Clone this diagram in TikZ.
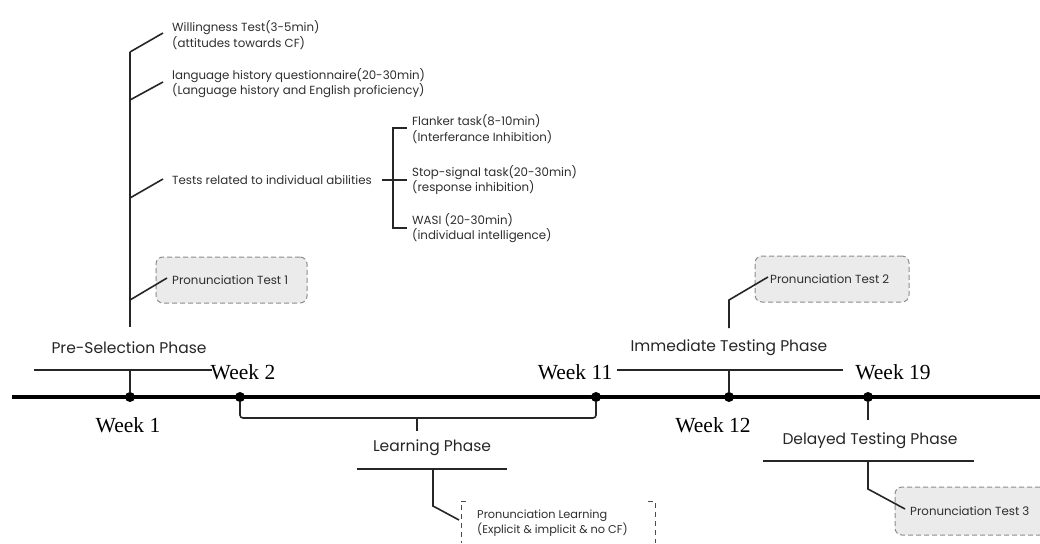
\documentclass[tikz,border=0pt]{standalone}
\usepackage{fontspec}
\setmainfont{Poppins}
\newfontfamily\timesf{Liberation Serif}
\begin{document}
\begin{tikzpicture}[x=1pt,y=-1pt,
 txt/.style={font=\fontsize{11.8}{15.5}\selectfont, text=black!82, anchor=west, align=left, inner sep=0pt},
 phase/.style={font=\fontsize{15.5}{18}\selectfont, text=black!85, inner sep=0pt},
 week/.style={font=\timesf\fontsize{21.5}{24}\selectfont, inner sep=0pt},
 ln/.style={line width=1.6pt, draw=black!85},
 dot/.style={circle, fill=black, inner sep=0pt, minimum size=10pt},
 tbox/.style={draw=black!45, dash pattern=on 5pt off 3pt, fill=black!8, rounded corners=7pt, line width=1pt},
 lbox/.style={draw=black!70, dash pattern=on 5pt off 4pt, line width=1pt},
]
\useasboundingbox (0,0) rectangle (1040,543);

% main timeline
\coordinate (tl0) at (12,397);
\coordinate (tl1) at (1040,397);
\draw[line width=4pt] (tl0) -- (tl1);
\node[dot] (w1) at (130,397) {};
\node[dot] (w2) at (240,397) {};
\node[dot] (w11) at (596,397) {};
\node[dot] (w12) at (729,397) {};
\node[dot] (w19) at (868,397) {};

% week labels
\node[week] (lw1) at (128,425) {Week 1};
\node[week] (lw2) at (243,372) {Week 2};
\node[week] (lw11) at (575,372) {Week 11};
\node[week] (lw12) at (713,425) {Week 12};
\node[week] (lw19) at (893,372) {Week 19};

% Pre-selection phase
\node[phase] (psl) at (129,348) {Pre-Selection Phase};
\coordinate (psa) at (34,370);
\coordinate (psb) at (212,370);
\coordinate (psm) at (130,370);
\draw[ln] (psa) -- (psb);
\draw[ln] (psm) -- (w1);
\coordinate (pstop) at (130,52);
\coordinate (psbot) at (130,327);
\draw[ln] (pstop) -- (psbot);

\coordinate (b1) at (130,52);
\coordinate (b2) at (130,100);
\coordinate (b3) at (130,198);
\coordinate (b4) at (130,300);

\node[txt] (t1) at (172,35) {Willingness Test(3-5min)\\(attitudes towards CF)};
\node[txt] (t2) at (172,83) {language history questionnaire(20-30min)\\(Language history and English proficiency)};
\node[txt] (t3) at (172,180) {Tests related to individual abilities};
\draw[ln] (b1) -- (163,33);
\draw[ln] (b2) -- (163,82);
\draw[ln] (b3) -- (163,179);

\node[tbox, minimum width=151pt, minimum height=46pt] (pt1) at (231.5,280) {};
\node[txt] (pt1t) at (172,280) {Pronunciation Test 1};
\draw[ln] (b4) -- (167,278);

% sub-tests bracket
\coordinate (bra) at (382,180);
\coordinate (brb) at (407,180);
\draw[ln] (bra) -- (brb);
\draw[ln] (407,128) -- (393,128) -- (393,228) -- (407,228);
\node[txt] (s1) at (412,129) {Flanker task(8-10min)\\(Interferance Inhibition)};
\node[txt] (s2) at (412,180) {Stop-signal task(20-30min)\\(response inhibition)};
\node[txt] (s3) at (412,228) {WASI (20-30min)\\(individual intelligence)};

% Learning phase
\coordinate (lb1) at (240,418);
\coordinate (lb2) at (596,418);
\coordinate (lbm) at (417,418);
\coordinate (lbt) at (417,431);
\draw[ln, rounded corners=3pt] (w2) -- (lb1) -- (lb2) -- (w11);
\draw[ln] (lbm) -- (lbt);
\node[phase] (lpl) at (432,448) {Learning Phase};
\coordinate (lpa) at (357,469);
\coordinate (lpb) at (507,469);
\draw[ln] (lpa) -- (lpb);
\draw[ln] (433,469) -- (433,506) -- (459,520);
\draw[lbox] (466,501) -- (461,501) -- (461,543);
\draw[lbox] (648,501) -- (655,501) -- (655,543);
\node[txt, font=\fontsize{11.3}{14.5}\selectfont] (plt) at (477,523) {Pronunciation Learning\\(Explicit \& implicit \& no CF)};

% Immediate testing phase
\node[phase] (itl) at (729,348) {Immediate Testing Phase};
\coordinate (ita) at (617,370);
\coordinate (itb) at (843,370);
\coordinate (itm) at (729,370);
\draw[ln] (ita) -- (itb);
\draw[ln] (itm) -- (w12);
\node[tbox, minimum width=154pt, minimum height=46pt] (pt2) at (832,279) {};
\node[txt] (pt2t) at (770,279) {Pronunciation Test 2};
\draw[ln] (729,328) -- (729,300) -- (768,277);

% Delayed testing phase
\coordinate (dtt) at (868,420);
\draw[ln] (w19) -- (dtt);
\node[phase] (dtl) at (870,441) {Delayed Testing Phase};
\coordinate (dta) at (763,461);
\coordinate (dtb) at (974,461);
\draw[ln] (dta) -- (dtb);
\node[tbox, minimum width=160pt, minimum height=48pt] (pt3) at (975,511) {};
\node[txt] (pt3t) at (910,511) {Pronunciation Test 3};
\draw[ln] (868,461) -- (868,489) -- (905,509);
\end{tikzpicture}
\end{document}
